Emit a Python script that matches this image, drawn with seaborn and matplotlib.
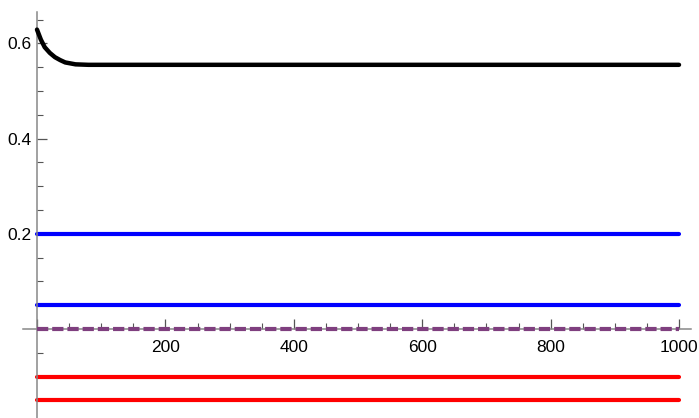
import numpy as np
import pandas as pd
import matplotlib
matplotlib.use("Agg")
import matplotlib.pyplot as plt
import seaborn as sns
from matplotlib.ticker import MultipleLocator, FixedLocator

# black curve
curve_x = [0, 6, 12, 20, 28, 36, 44, 52, 60, 80, 1000]
curve_y = [0.629, 0.608, 0.592, 0.580, 0.571, 0.565, 0.560, 0.558, 0.556, 0.555, 0.555]

# constant levels
blue_levels = [0.2, 0.05]
red_levels = [-0.1, -0.15]
purple_level = 0.0
x_span = [0, 1000]

sns.set_style("white")
plt.rcParams["font.family"] = ["Liberation Sans", "DejaVu Sans"]

fig = plt.figure(figsize=(6.99, 4.18), dpi=100)
ax = fig.add_axes([0, 0, 1, 1])

# pixel mapping: x=0 -> 37px, 1000 -> 679px ; y=0 -> 329px, 0.2 -> 233.8px
sx = (679 - 37) / 1000
sy = 476.0
ax.set_xlim(-37 / sx, (699 - 37) / sx)
ax.set_ylim(-(418 - 329) / sy, 329 / sy)

rows = []
for lv in blue_levels:
    rows.append(pd.DataFrame({"x": x_span, "y": [lv, lv], "s": f"b{lv}"}))
for lv in red_levels:
    rows.append(pd.DataFrame({"x": x_span, "y": [lv, lv], "s": f"r{lv}"}))
df = pd.concat(rows)
pal = {f"b{lv}": "#0000ff" for lv in blue_levels}
pal.update({f"r{lv}": "#ff0000" for lv in red_levels})
sns.lineplot(data=df, x="x", y="y", hue="s", palette=pal, lw=3, legend=False, ax=ax)

sns.lineplot(x=x_span, y=[purple_level, purple_level], color="#7f3f7f", lw=3,
             ax=ax, zorder=3)
ax.lines[-1].set_dashes([2.7, 0.95])
sns.lineplot(x=curve_x, y=curve_y, color="black", lw=3.2, ax=ax, zorder=4)

# axes through origin, Mathematica style
for s in ["top", "right"]:
    ax.spines[s].set_visible(False)
ax.spines["left"].set_position(("data", 0))
ax.spines["bottom"].set_position(("data", 0))
ax.spines["bottom"].set_bounds(-22, 1018)
ax.spines["left"].set_bounds(-0.19, 0.667)
for s in ["left", "bottom"]:
    ax.spines[s].set_color("#888888")
    ax.spines[s].set_linewidth(1.1)
    ax.spines[s].set_zorder(2)

ax.xaxis.set_major_locator(FixedLocator([0, 200, 400, 600, 800, 1000]))
ax.xaxis.set_minor_locator(FixedLocator(np.arange(50, 1001, 50)))
ax.set_xticklabels(["", "200", "400", "600", "800", "1000"])
ax.yaxis.set_major_locator(FixedLocator([0, 0.2, 0.4, 0.6]))
ax.yaxis.set_minor_locator(FixedLocator(np.arange(-0.15, 0.66, 0.05)))
ax.set_yticklabels(["", "0.2", "0.4", "0.6"])

ax.tick_params(axis="both", which="both", bottom=True, left=True)
ax.tick_params(axis="both", which="major", direction="in", length=7, width=0.9,
               color="#555555", labelsize=12.5, labelcolor="black")
ax.tick_params(axis="both", which="minor", direction="in", length=4, width=0.8,
               color="#555555")
ax.tick_params(axis="x", which="major", pad=8)
ax.tick_params(axis="y", which="major", pad=4)
ax.set_xlabel("")
ax.set_ylabel("")

fig.savefig("out.png", dpi=100)
